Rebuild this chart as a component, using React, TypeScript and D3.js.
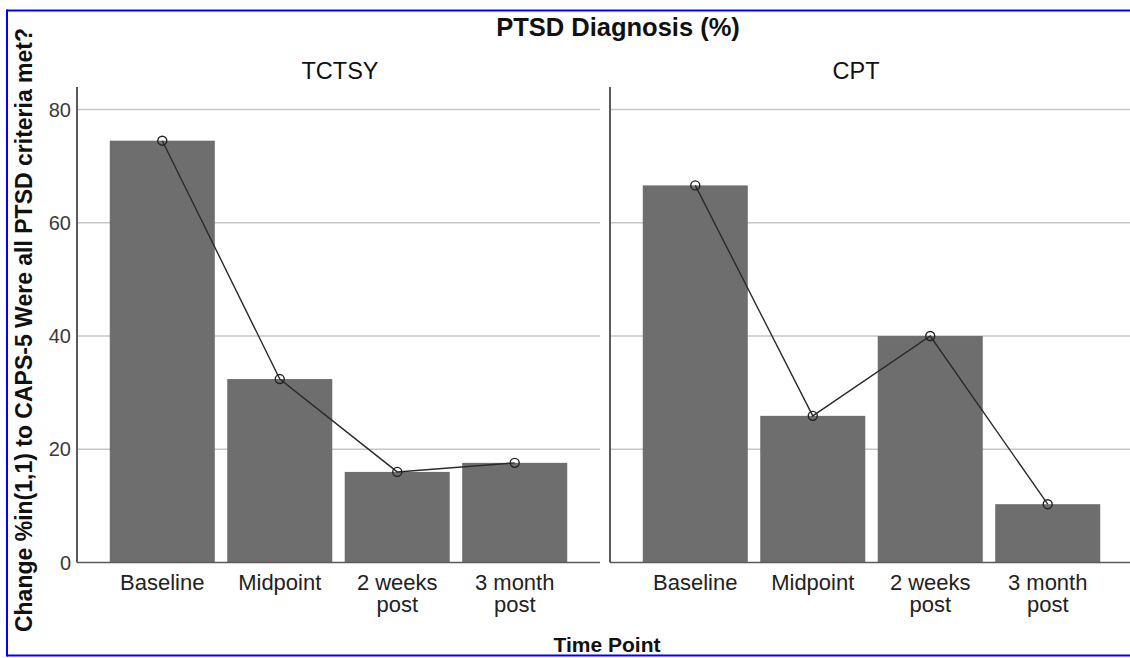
import React from "react";
import * as d3 from "d3";

const categories = ["Baseline", "Midpoint", "2 weeks post", "3 month post"];
const tickLines = [["Baseline"], ["Midpoint"], ["2 weeks", "post"], ["3 month", "post"]];
const panelNames = ["TCTSY", "CPT"];
const tctsyValues = [74.5, 32.4, 16.0, 17.6];
const cptValues = [66.6, 25.9, 40.0, 10.3];
const yTicks = [0, 20, 40, 60, 80];

const W = 1130;
const H = 658;
const FONT = "'Liberation Sans', Arial, Helvetica, sans-serif";

export default function App() {
  const y = d3.scaleLinear().domain([0, 84]).range([562.5, 86.9]);
  const panels = [
    { name: panelNames[0], values: tctsyValues, x0: 77, titleX: 340 },
    { name: panelNames[1], values: cptValues, x0: 610, titleX: 856 },
  ];
  const panelW = 523;

  return (
    <svg
      width={W}
      height={H}
      style={{ position: "fixed", left: 0, top: 0, background: "#fff" }}
      fontFamily={FONT}
    >
      <rect x={0} y={0} width={W} height={H} fill="#fff" />
      {/* blue frame: left, top, bottom */}
      <line x1={7} x2={W} y1={10.5} y2={10.5} stroke="#0000ff" strokeWidth={2} />
      <line x1={7} x2={W} y1={655.5} y2={655.5} stroke="#0000ff" strokeWidth={2} />
      <line x1={7} x2={7} y1={9.5} y2={656.5} stroke="#0000ff" strokeWidth={2} />

      <text x={618} y={36} textAnchor="middle" fontSize={25.5} fontWeight="bold" fill="#111">
        PTSD Diagnosis (%)
      </text>

      <text
        transform={`translate(32,330) rotate(-90)`}
        textAnchor="middle"
        fontSize={23}
        fontWeight="bold"
        fill="#111"
      >
        Change %in(1,1) to CAPS-5 Were all PTSD criteria met?
      </text>

      <text x={607} y={652} textAnchor="middle" fontSize={21} fontWeight="bold" fill="#111">
        Time Point
      </text>

      {yTicks.map((t) => (
        <text
          key={"yt" + t}
          x={71}
          y={y(t)}
          dy="0.35em"
          textAnchor="end"
          fontSize={20}
          fill="#3a3a3a"
        >
          {t}
        </text>
      ))}

      {panels.map((p, pi) => {
        const x = d3
          .scaleBand()
          .domain(categories)
          .range([p.x0, p.x0 + panelW])
          .paddingInner(0.106)
          .paddingOuter(0.279);
        const cx = (i: number) => (x(categories[i]) as number) + x.bandwidth() / 2;
        const line = d3
          .line<number>()
          .x((_, i) => cx(i))
          .y((v) => y(v));
        const gridEnd = pi === 1 ? W : p.x0 + panelW;
        return (
          <g key={p.name}>
            {yTicks
              .filter((t) => t > 0)
              .map((t) => (
                <line
                  key={"g" + t}
                  x1={p.x0}
                  x2={gridEnd}
                  y1={y(t)}
                  y2={y(t)}
                  stroke="#c6c6c6"
                  strokeWidth={1.6}
                />
              ))}
            {p.values.map((v, i) => (
              <rect
                key={"b" + i}
                x={x(categories[i])}
                y={y(v)}
                width={x.bandwidth()}
                height={y(0) - y(v)}
                fill="#6e6e6e"
              />
            ))}
            <line x1={p.x0} x2={gridEnd} y1={y(0)} y2={y(0)} stroke="#5a5a5a" strokeWidth={1.6} />
            <line x1={p.x0} x2={p.x0} y1={y(84)} y2={y(0)} stroke="#5a5a5a" strokeWidth={2} />
            <path d={line(p.values) || ""} fill="none" stroke="#2a2a2a" strokeWidth={1.4} />
            {p.values.map((v, i) => (
              <circle
                key={"c" + i}
                cx={cx(i)}
                cy={y(v)}
                r={4.5}
                fill="none"
                stroke="#222"
                strokeWidth={1.4}
              />
            ))}
            <text x={p.titleX} y={79} textAnchor="middle" fontSize={23.5} fill="#111">
              {p.name}
            </text>
            {categories.map((c, i) =>
              tickLines[i].map((ln, li) => (
                <text
                  key={"xt" + i + "_" + li}
                  x={cx(i)}
                  y={590 + li * 22}
                  textAnchor="middle"
                  fontSize={22}
                  fill="#222"
                >
                  {ln}
                </text>
              ))
            )}
          </g>
        );
      })}
    </svg>
  );
}
